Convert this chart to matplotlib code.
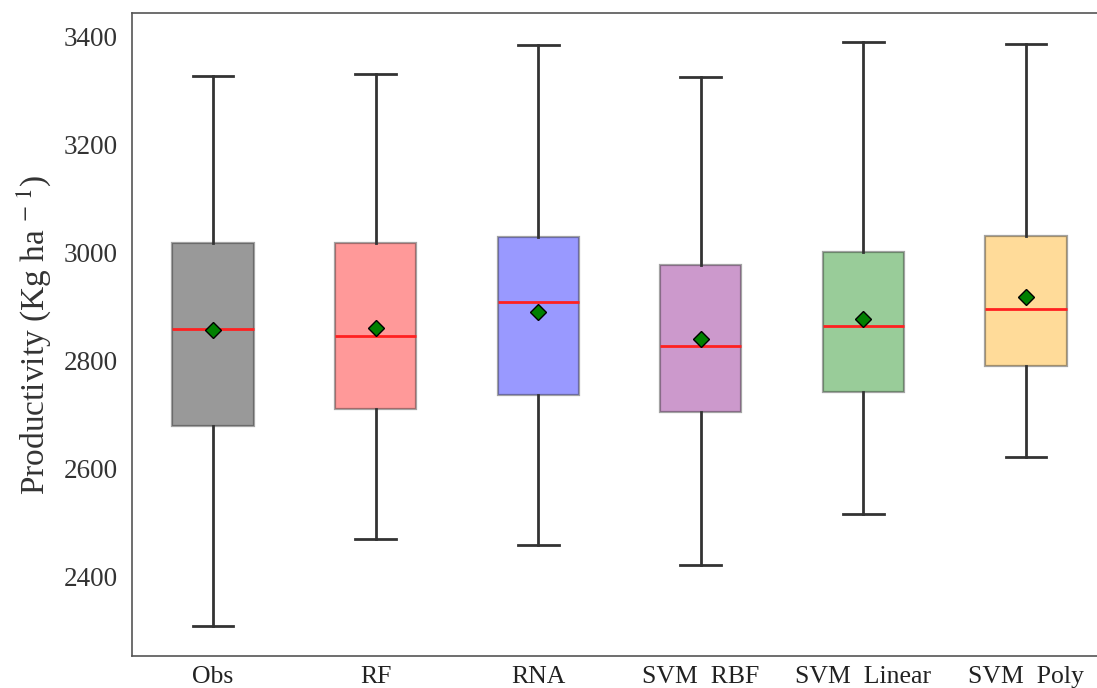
import matplotlib
matplotlib.use("Agg")
import matplotlib.pyplot as plt
from matplotlib.colors import to_rgba

plt.rcParams['font.family'] = ['Liberation Serif', 'DejaVu Serif']
plt.rcParams['mathtext.fontset'] = 'stix'

categories = ["Obs", "RF", "RNA", "SVM  RBF", "SVM  Linear", "SVM  Poly"]
whisker_low = [2307, 2469, 2457, 2420, 2515, 2620]
q1 = [2678, 2709, 2735, 2704, 2741, 2789]
median = [2858, 2844, 2907, 2826, 2863, 2894]
q3 = [3017, 3017, 3028, 2976, 3000, 3030]
whisker_high = [3326, 3330, 3383, 3324, 3389, 3385]
means = [2856, 2859, 2889, 2839, 2876, 2917]
colors = ["black", "red", "blue", "purple", "green", "orange"]

stats = []
for i, c in enumerate(categories):
    stats.append(dict(label=c, whislo=whisker_low[i], q1=q1[i], med=median[i],
                      q3=q3[i], whishi=whisker_high[i], mean=means[i], fliers=[]))

fig = plt.figure(figsize=(10.97, 6.88), dpi=100)
W, H = 1097, 688
left, right, top, bottom = 131.7, 1107.3, 13, 656
ax = fig.add_axes([left / W, 1 - bottom / H, (right - left) / W, (bottom - top) / H])

positions = list(range(len(categories)))
bp = ax.bxp(stats, positions=positions, widths=0.5, patch_artist=True, showmeans=True,
            medianprops=dict(color='#ff2020', linewidth=2),
            whiskerprops=dict(color='#333333', linewidth=2),
            capprops=dict(color='#333333', linewidth=2),
            meanprops=dict(marker='D', markerfacecolor='green', markeredgecolor='black',
                           markersize=8))
for patch, col in zip(bp['boxes'], colors):
    patch.set_facecolor(to_rgba(col, 0.4))
    patch.set_edgecolor((0.2, 0.2, 0.2, 0.45))
    patch.set_linewidth(1.6)

ax.set_xlim(-0.5, 5.5)
ax.set_ylim(2252, 3443)
ax.set_yticks([2400, 2600, 2800, 3000, 3200, 3400])
ax.set_xticks(positions)
ax.set_xticklabels(categories)
ax.tick_params(axis='y', labelsize=19.5, length=0, pad=10, labelcolor='#333333')
ax.tick_params(axis='x', labelsize=18.5, length=0, pad=7, labelcolor='#222222')
for s in ax.spines.values():
    s.set_color('#555555')
    s.set_linewidth(1.2)
ax.set_ylabel('Productivity (Kg ha $^{-\\ 1}$)', fontsize=24, color='#333333', labelpad=8)

fig.savefig('out.png', dpi=100)
